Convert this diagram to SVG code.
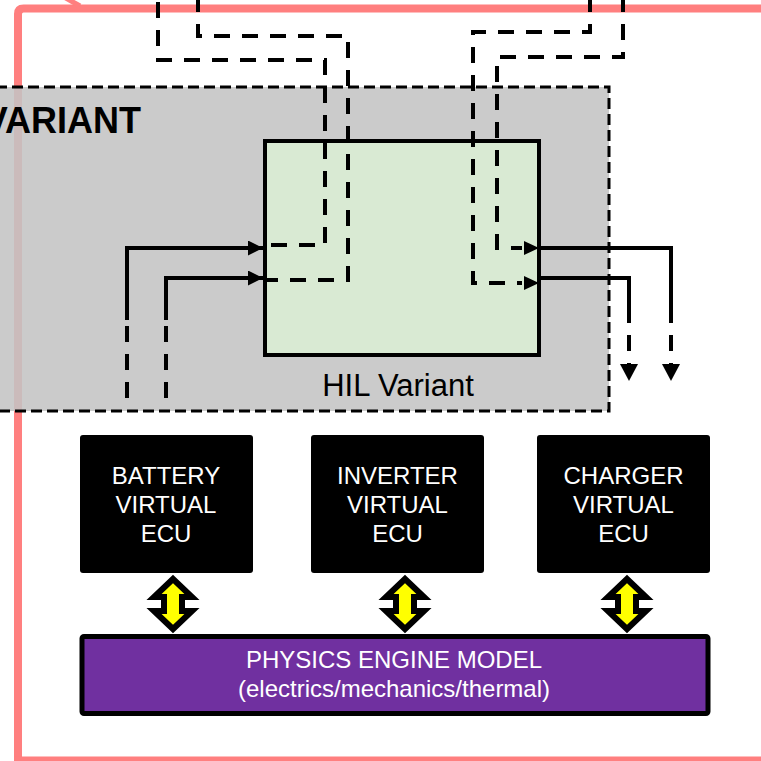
<svg xmlns="http://www.w3.org/2000/svg" width="761" height="761" viewBox="0 0 761 761">
<style>
.frame{fill:none;stroke:#FF7F7F;stroke-width:8}
.txt{font-family:"Liberation Sans",Arial,sans-serif}
.ecu{fill:#000;stroke:none}
.ecut{fill:#fff;font-size:24px;text-anchor:middle}
.solid{fill:none;stroke:#000;stroke-width:4}
.dash{fill:none;stroke:#000;stroke-width:4;stroke-dasharray:16 12}
.dbl{fill:#FFFF00;stroke:#000;stroke-width:6;stroke-linejoin:miter}
</style>
<defs>
<marker id="ah" markerWidth="16" markerHeight="16" refX="15" refY="7.5" orient="auto" markerUnits="userSpaceOnUse">
<path d="M0,0 L15,7.5 L0,15 Z" fill="#000"/>
</marker>
<polygon id="dblarrow" class="dbl" points="0,579 19,597 9,597 9,611 19,611 0,629 -19,611 -9,611 -9,597 -19,597"/>
</defs>

<g id="frame">
<path class="frame" d="M18,765 L18,14 Q18,8.5 23.5,8.5 L770,8.5"/>
<path class="frame" d="M14,760.5 L770,760.5"/>
<path d="M64,-3 L80,6" stroke="#FF7F7F" stroke-width="5" fill="none"/>
</g>

<g id="variant">
<rect x="-20" y="87" width="629" height="324" fill="#C4C4C4" fill-opacity="0.88" stroke="#000" stroke-width="3" stroke-dasharray="11 5"/>
<text class="txt" x="141" y="133" font-size="36" font-weight="bold" text-anchor="end" fill="#000">VARIANT</text>
<text class="txt" x="398" y="396" font-size="31" text-anchor="middle" fill="#000">HIL Variant</text>
</g>

<g id="hil">
<rect x="265" y="141" width="274" height="214" fill="#D9EAD3" stroke="#000" stroke-width="4"/>
</g>

<g id="connectors">
<path class="dash" d="M158,2 L158,60 L325,60 L325,245 L264,245"/>
<path class="dash" d="M198,-4 L198,36 L348,36 L348,280 L264,280"/>
<path class="dash" d="M590,-4 L590,32 L473,32 L473,283 L522,283"/>
<path class="dash" d="M623,-4 L623,57 L497,57 L497,248 L522,248"/>
<path d="M524,241 L539,248 L524,255 Z" fill="#000"/>
<path d="M524,276 L539,283 L524,290 Z" fill="#000"/>

<path class="dash" d="M127,398 L127,320"/>
<path class="solid" d="M127,320 L127,248 L263,248" marker-end="url(#ah)"/>
<path class="dash" d="M166,398 L166,320"/>
<path class="solid" d="M166,320 L166,278 L263,278" marker-end="url(#ah)"/>

<path class="solid" d="M539,248 L671,248 L671,307"/>
<path class="dash" d="M671,307 L671,368"/>
<path d="M662,364 L680,364 L671,381 Z" fill="#000"/>
<path class="solid" d="M539,278 L629,278 L629,307"/>
<path class="dash" d="M629,307 L629,368"/>
<path d="M620,364 L638,364 L629,381 Z" fill="#000"/>

<use href="#dblarrow" x="173" y="0"/>
<use href="#dblarrow" x="405" y="0"/>
<use href="#dblarrow" x="627" y="0"/>
</g>

<g id="battery">
<rect class="ecu" x="80" y="435" width="173" height="138" rx="3"/>
<text class="txt ecut" x="166" y="484">BATTERY</text>
<text class="txt ecut" x="166" y="513">VIRTUAL</text>
<text class="txt ecut" x="166" y="542">ECU</text>
</g>
<g id="inverter">
<rect class="ecu" x="311" y="435" width="173" height="138" rx="3"/>
<text class="txt ecut" x="397.5" y="484">INVERTER</text>
<text class="txt ecut" x="397.5" y="513">VIRTUAL</text>
<text class="txt ecut" x="397.5" y="542">ECU</text>
</g>
<g id="charger">
<rect class="ecu" x="537" y="435" width="173" height="138" rx="3"/>
<text class="txt ecut" x="623.5" y="484">CHARGER</text>
<text class="txt ecut" x="623.5" y="513">VIRTUAL</text>
<text class="txt ecut" x="623.5" y="542">ECU</text>
</g>

<g id="physics">
<rect x="82" y="636.5" width="626" height="77" fill="#7030A0" stroke="#000" stroke-width="5" rx="2"/>
<text class="txt" x="394" y="668" font-size="24" text-anchor="middle" fill="#fff">PHYSICS ENGINE MODEL</text>
<text class="txt" x="394" y="697" font-size="24" text-anchor="middle" fill="#fff">(electrics/mechanics/thermal)</text>
</g>
</svg>
